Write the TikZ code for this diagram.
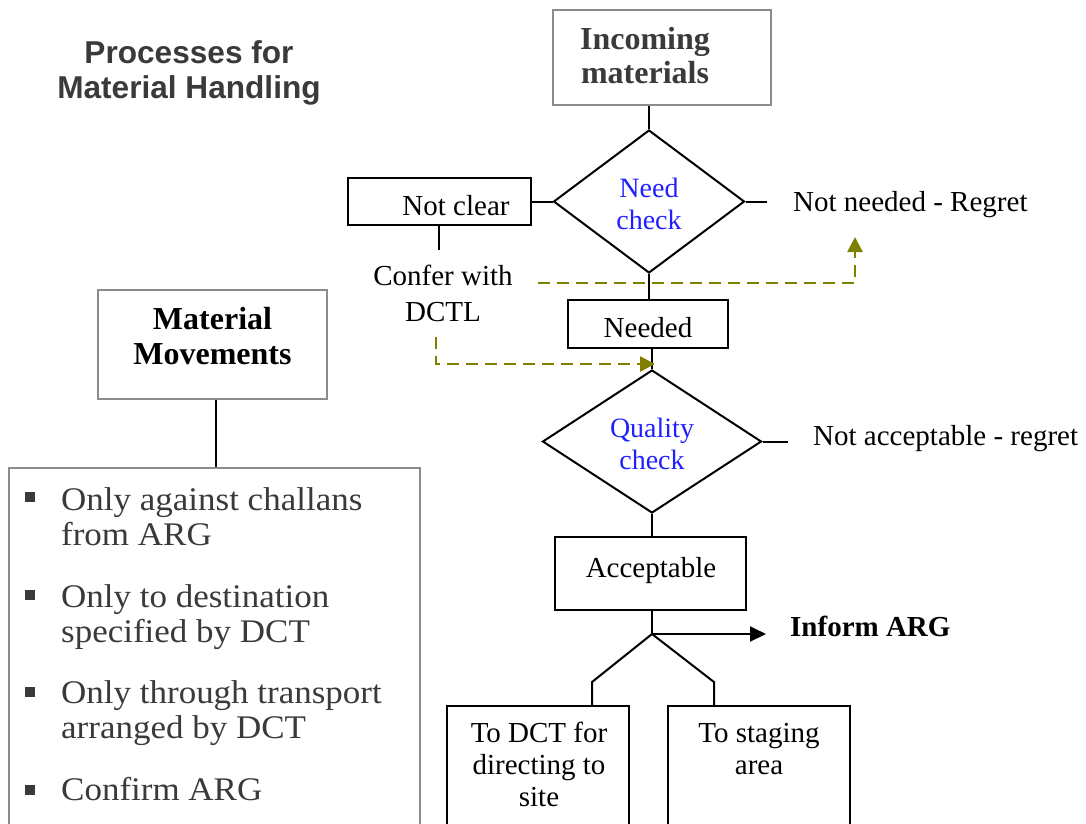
\documentclass[tikz,border=0pt]{standalone}
\usepackage{fontspec}
\setmainfont{Liberation Serif}
\newfontfamily\headfont{Liberation Sans}
\newfontfamily\listfont[FakeStretch=1.06]{Liberation Serif}
\usetikzlibrary{shapes.geometric,arrows.meta}
\definecolor{boxgray}{HTML}{8C8C8C}
\definecolor{olivedash}{HTML}{808000}
\definecolor{darktext}{HTML}{3A3A3A}
\definecolor{checkblue}{HTML}{2020FF}

\begin{document}
\begin{tikzpicture}[x=1pt,y=-1pt,
  flowline/.style={line width=2pt, black},
  graybox/.style={draw=boxgray, line width=2pt, inner sep=0pt, fill=white},
  plainbox/.style={draw=black, line width=2pt, inner sep=0pt, fill=white},
  decision/.style={diamond, draw=black, line width=2pt, inner sep=0pt},
  dashlink/.style={olivedash, line width=2.6pt, dash pattern=on 12pt off 7pt,
    -{Triangle[length=15pt,width=15pt]}},
  txt/.style={font=\fontsize{29}{33}\selectfont, anchor=base, inner sep=0pt},
  bluetxt/.style={txt, font=\fontsize{28}{32}\selectfont, text=checkblue},
  headtxt/.style={anchor=base, inner sep=0pt, font=\fontsize{32}{34}\selectfont\bfseries},
  titletxt/.style={anchor=base, inner sep=0pt, text=darktext,
    font=\headfont\fontsize{31.6}{37}\selectfont\bfseries},
  listtxt/.style={anchor=base west, inner sep=0pt, text=darktext,
    font=\listfont\fontsize{33}{36}\selectfont},
  bulletsq/.style={rectangle, fill=darktext, minimum size=10pt, inner sep=0pt},
]
\useasboundingbox (0,0) rectangle (1086,823);
\clip (0,0) rectangle (1086,823);

% title
\node[titletxt] (t1) at (189,63) {Processes for};
\node[titletxt] (t2) at (189,98) {Material Handling};

% main flow boxes
\node[graybox, minimum width=218pt, minimum height=95pt] (inc) at (662,57.5) {};
\node[headtxt, text=darktext] (inc1) at (645,49) {Incoming};
\node[headtxt, text=darktext] (inc2) at (645,83) {materials};

\node[decision, minimum width=191pt, minimum height=143pt] (need) at (649,201.5) {};
\node[bluetxt] (need1) at (649,197) {Need};
\node[bluetxt] (need2) at (649,229) {check};

\node[plainbox, minimum width=183pt, minimum height=47pt] (notclear) at (439.5,201.5) {};
\node[txt] (notcleartxt) at (456,215) {Not clear};

\node[txt] (confer1) at (443,285) {Confer with};
\node[txt] (confer2) at (443,321) {DCTL};

\node[txt, anchor=base west] (notneeded) at (793,211) {Not needed - Regret};

\node[plainbox, minimum width=160pt, minimum height=48pt] (needed) at (648,324) {};
\node[txt] (neededtxt) at (648,337) {Needed};

\node[decision, minimum width=219pt, minimum height=143pt] (quality) at (652,441.5) {};
\node[bluetxt] (quality1) at (652,437) {Quality};
\node[bluetxt] (quality2) at (652,469) {check};

\node[txt, anchor=base west] (notacc) at (813,445) {Not acceptable - regret};

\node[plainbox, minimum width=191pt, minimum height=73pt] (accept) at (650.5,573.5) {};
\node[txt] (accepttxt) at (651,577) {Acceptable};

\node[txt, anchor=base west, font=\fontsize{29}{33}\selectfont\bfseries] (inform) at (790,636) {Inform ARG};

\node[plainbox, minimum width=182pt, minimum height=144pt] (dct) at (538,778) {};
\node[txt] (dct1) at (539,742) {To DCT for};
\node[txt] (dct2) at (539,774) {directing to};
\node[txt] (dct3) at (539,806) {site};

\node[plainbox, minimum width=182pt, minimum height=144pt] (stg) at (759,778) {};
\node[txt] (stg1) at (759,742) {To staging};
\node[txt] (stg2) at (759,774) {area};

% left column
\node[graybox, minimum width=229pt, minimum height=109pt] (mm) at (212.5,344.5) {};
\node[headtxt] (mm1) at (212.5,329) {Material};
\node[headtxt] (mm2) at (212.5,364) {Movements};

\node[graybox, minimum width=411pt, minimum height=382pt] (rules) at (214.5,659) {};

\node[bulletsq] (b1) at (29.5,496.5) {};
\node[listtxt] (r1a) at (61,510) {Only against challans};
\node[listtxt] (r1b) at (61,545) {from ARG};
\node[bulletsq] (b2) at (29.5,594.5) {};
\node[listtxt] (r2a) at (61,607) {Only to destination};
\node[listtxt] (r2b) at (61,642) {specified by DCT};
\node[bulletsq] (b3) at (29.5,692) {};
\node[listtxt] (r3a) at (61,703) {Only through transport};
\node[listtxt] (r3b) at (61,738) {arranged by DCT};
\node[bulletsq] (b4) at (29.5,789.5) {};
\node[listtxt] (r4a) at (61,800) {Confirm ARG};

% free ends of connectors
\coordinate (conferTop) at (439,250);
\coordinate (needR) at (767,201.5);
\coordinate (qualR) at (788,441.5);
\coordinate (fork) at (652,634);
\coordinate (informTip) at (766,634);
\coordinate (bendL) at (592,682);
\coordinate (bendR) at (714,682);
\coordinate (d1s) at (538,283);
\coordinate (d1c) at (855,283);
\coordinate (d1e) at (855,237);
\coordinate (d2s) at (436,337);
\coordinate (d2c) at (436,364);
\coordinate (d2e) at (655,364);

% connectors
\draw[flowline] (need.north |- inc.south) -- (need.north);
\draw[flowline] (notclear.east) -- (need.west);
\draw[flowline] (need.east) -- (needR);
\draw[flowline] (notclear.south -| conferTop) -- (conferTop);
\draw[flowline] (need.south) -- (need.south |- needed.north);
\draw[flowline] (quality.north |- needed.south) -- (quality.north);
\draw[flowline] (quality.east) -- (qualR);
\draw[flowline] (quality.south) -- (quality.south |- accept.north);
\draw[flowline] (accept.south -| fork) -- (fork);
\draw[flowline, -{Triangle[length=16pt,width=15pt]}] (fork) -- (informTip);
\draw[flowline] (fork) -- (bendL) -- (bendL |- dct.north);
\draw[flowline] (fork) -- (bendR) -- (bendR |- stg.north);
\draw[flowline] (mm.south -| 216,0) -- (rules.north -| 216,0);

\draw[dashlink] (d1s) -- (d1c) -- (d1e);
\draw[dashlink] (d2s) -- (d2c) -- (d2e);
\end{tikzpicture}
\end{document}
